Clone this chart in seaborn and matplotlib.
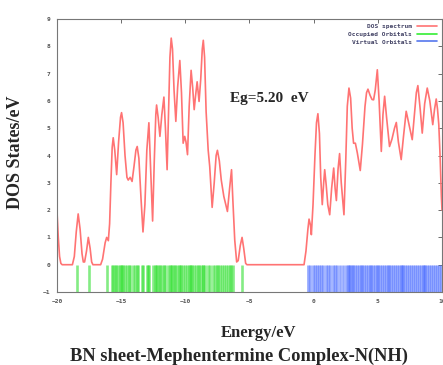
import matplotlib
matplotlib.use("Agg")
import matplotlib.pyplot as plt
from matplotlib.lines import Line2D
import seaborn as sns
import pandas as pd

# DOS curve (energy in eV, states/eV)
dos_energy = [
    -20.0, -19.9, -19.8, -19.7, -19.6, -18.8, -18.65, -18.5, -18.35, -18.2,
    -18.05, -17.95, -17.85, -17.7, -17.56, -17.42, -17.3, -17.2, -16.6, -16.45,
    -16.25, -16.13, -16.0, -15.9, -15.8, -15.7, -15.62, -15.5, -15.35, -15.2,
    -15.05, -14.97, -14.85, -14.7, -14.55, -14.45, -14.3, -14.15, -14.0, -13.85,
    -13.75, -13.62, -13.45, -13.3, -13.15, -13.0, -12.84, -12.7, -12.55, -12.42,
    -12.3, -12.24, -12.12, -11.98, -11.83, -11.67, -11.55, -11.42, -11.3, -11.2,
    -11.1, -11.0, -10.88, -10.74, -10.6, -10.43, -10.3, -10.17, -10.05, -9.95,
    -9.83, -9.7, -9.55, -9.43, -9.31, -9.2, -9.08, -8.93, -8.8, -8.68,
    -8.6, -8.5, -8.38, -8.22, -8.1, -7.91, -7.75, -7.6, -7.5, -7.35,
    -7.2, -7.0, -6.85, -6.72, -6.55, -6.4, -6.3, -6.15, -6.0, -5.88,
    -5.72, -5.58, -5.45, -5.3, -5.2, -0.75, -0.6, -0.45, -0.36, -0.25,
    -0.18, -0.05, 0.1, 0.22, 0.33, 0.45, 0.55, 0.67, 0.78, 0.86,
    0.98, 1.1, 1.25, 1.4, 1.56, 1.67, 1.77, 1.9, 2.02, 2.15,
    2.36, 2.5, 2.62, 2.75, 2.88, 3.0, 3.11, 3.25, 3.4, 3.63,
    3.8, 4.0, 4.12, 4.23, 4.4, 4.55, 4.67, 4.8, 4.96, 5.1,
    5.27, 5.4, 5.53, 5.68, 5.91, 6.1, 6.3, 6.44, 6.6, 6.82,
    7.0, 7.21, 7.4, 7.68, 7.85, 8.0, 8.12, 8.3, 8.46, 8.65,
    8.85, 9.05, 9.28, 9.42, 9.55, 9.65, 9.75, 9.85, 9.95, 10.0,
]
dos_value = [
    1.95, 1.0, 0.3, 0.05, 0.0, 0.0, 0.3, 1.2, 1.86, 1.3,
    0.4, 0.1, 0.1, 0.5, 1.0, 0.6, 0.1, 0.0, 0.0, 0.2,
    0.8, 1.0, 0.88, 1.5, 3.0, 4.3, 4.65, 4.2, 3.3, 4.5,
    5.4, 5.57, 5.2, 4.0, 3.2, 3.1, 3.2, 3.05, 3.6, 4.2,
    4.33, 3.9, 2.4, 1.2, 2.2, 4.2, 5.2, 3.5, 1.6, 3.8,
    5.5, 5.85, 5.4, 4.7, 5.5, 6.14, 5.0, 3.48, 5.8, 7.6,
    8.3, 7.9, 6.4, 5.25, 6.5, 7.48, 6.3, 4.45, 4.7, 4.5,
    4.03, 5.8, 7.12, 6.5, 5.68, 6.2, 6.7, 5.98, 6.8, 7.9,
    8.22, 7.6, 5.6, 4.2, 3.6, 2.1, 3.0, 4.0, 4.19, 3.8,
    3.1, 2.5, 2.2, 1.95, 2.8, 3.48, 2.4, 0.9, 0.1, 0.15,
    0.7, 1.0, 0.6, 0.05, 0.0, 0.0, 0.5, 1.3, 1.67, 1.45,
    1.1, 2.2, 4.0, 5.2, 5.53, 4.8, 3.2, 2.2, 3.0, 3.48,
    2.9, 2.2, 1.83, 2.8, 3.54, 2.8, 2.35, 3.5, 4.07, 3.0,
    1.83, 3.8, 5.8, 6.47, 6.1, 5.0, 4.45, 4.45, 4.1, 3.45,
    4.4, 5.8, 6.3, 6.43, 6.2, 6.05, 6.04, 6.4, 7.14, 6.0,
    4.15, 5.5, 6.17, 5.4, 4.33, 4.6, 5.0, 5.21, 4.5, 3.85,
    4.7, 5.62, 5.2, 4.58, 5.5, 6.3, 6.56, 5.7, 4.82, 5.9,
    6.47, 6.0, 5.13, 5.7, 6.07, 5.7, 5.13, 4.0, 2.5, 2.0,
]

# orbital energies (eV)
occupied = [
    -18.42, -17.5, -16.13,
    -15.72, -15.6, -15.5, -15.38, -15.25, -15.12, -15.05, -14.95, -14.82, -14.7,
    -14.55, -14.4, -14.28, -14.1, -13.95, -13.8, -13.68, -13.4, -13.3, -13.0,
    -12.9, -12.85, -12.5, -12.4, -12.3, -12.2, -12.08, -11.95, -11.8, -11.68,
    -11.55, -11.35, -11.2, -11.12, -11.05, -10.92, -10.8, -10.65, -10.5, -10.43,
    -10.3, -10.15, -10.0, -9.85, -9.72, -9.6, -9.55, -9.45, -9.3, -9.15,
    -9.05, -8.9, -8.75, -8.65, -8.6, -8.45, -8.2, -8.05, -7.85, -7.7,
    -7.57, -7.45, -7.3, -7.15, -7.0, -6.85, -6.68, -6.54, -6.42, -6.32,
    -5.55,
]
virtual = [
    -0.45, -0.3, -0.05, 0.1, 0.25, 0.4, 0.55, 0.75, 0.95, 1.1, 1.3, 1.5,
    1.65, 1.85, 2.05, 2.25,
    2.55, 2.65, 2.75, 2.85, 2.95, 3.05, 3.2, 3.35, 3.5, 3.65, 3.8, 3.95,
    4.1, 4.25, 4.4, 4.5, 4.6, 4.75, 4.9, 5.05, 5.2, 5.35, 5.5, 5.65,
    5.8, 5.9, 6.05, 6.2, 6.35, 6.5, 6.65, 6.8, 6.9, 7.0, 7.15, 7.3,
    7.45, 7.6, 7.75, 7.9, 8.05, 8.2, 8.35, 8.5, 8.6, 8.7, 8.85, 9.0,
    9.15, 9.3, 9.45, 9.6, 9.75, 9.9,
]

x_ticks = [-20, -15, -10, -5, 0, 5, 10]
y_ticks = [-1, 0, 1, 2, 3, 4, 5, 6, 7, 8, 9]

dos_red = "#ff7373"
green = "#33e033"
blue = "#4a6cff"

sns.set_style("white")
serif = ["Liberation Serif", "DejaVu Serif"]
mono = ["DejaVu Sans Mono"]

fig = plt.figure(figsize=(4.43, 3.65), dpi=100)
ax = fig.add_axes([57 / 443, 1 - 292 / 365, 385 / 443, 273 / 365])

df = pd.DataFrame({"energy": dos_energy, "dos": dos_value})
sns.lineplot(data=df, x="energy", y="dos", ax=ax, color=dos_red, lw=1.2,
             sort=False, estimator=None, legend=False)

# orbital sticks between -1 and 0
ax.vlines(occupied, -1, 0, color=green, lw=1.9, alpha=0.6)
ax.vlines(virtual, -1, 0, color=blue, lw=1.9, alpha=0.6)

ax.set_xlim(-20, 10)
ax.set_ylim(-1, 9)
ax.set_xticks(x_ticks)
ax.set_yticks(y_ticks)
ax.tick_params(direction="in", length=3, width=0.6, top=True, right=True,
               labelsize=4.5, labelcolor="#555555", color="#555555", pad=5)
for lab in ax.get_xticklabels() + ax.get_yticklabels():
    lab.set_family(mono)
    lab.set_fontweight("bold")
for sp in ax.spines.values():
    sp.set_color("#777777")
    sp.set_linewidth(0.8)

ax.set_xlabel("")
ax.set_ylabel("")

# gnuplot-style legend: text first, sample line after
handles = [Line2D([], [], color=dos_red, lw=1.2),
           Line2D([], [], color="#33ee33", lw=1.2),
           Line2D([], [], color="#5577ee", lw=1.2)]
leg = ax.legend(handles, ["DOS spectrum", "Occupied Orbitals", "Virtual Orbitals"],
                loc="upper right", markerfirst=False, frameon=False,
                prop={"family": mono, "size": 4.5, "weight": "bold"},
                handlelength=3.2, labelspacing=0.35, borderaxespad=0.4,
                handletextpad=0.8)
for t in leg.get_texts():
    t.set_color("#444466")

ax.text(-3.45, 6.1, "Eg=5.20  eV", family=serif, fontsize=11,
        fontweight="bold", ha="center", va="center")

fig.text(15 / 443, 1 - 152 / 365, "DOS States/eV", family=serif, fontsize=13,
         fontweight="bold", rotation=90, ha="center", va="center")
fig.text(259 / 443, 1 - 333 / 365, "Energy/eV", family=serif, fontsize=12,
         fontweight="bold", ha="center", va="center")
fig.text(239 / 443, 1 - 356 / 365, "BN sheet-Mephentermine Complex-N(NH)",
         family=serif, fontsize=13.3, fontweight="bold", ha="center", va="center")

fig.savefig("out.png", dpi=100)
